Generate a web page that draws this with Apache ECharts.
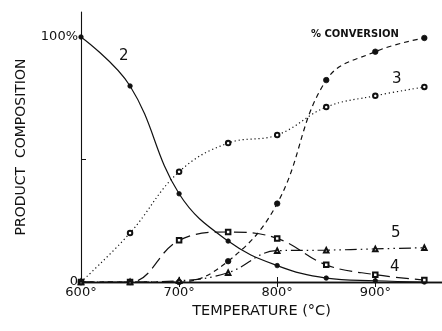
<!DOCTYPE html>
<html>
<head>
<meta charset="utf-8">
<script src="https://cdn.jsdelivr.net/npm/echarts@6/dist/echarts.min.js"></script>
<style>html,body{margin:0;padding:0;background:#fff}#c{width:442px;height:331px}</style>
</head>
<body>
<div id="c"></div>
<script>
var temps = [600, 650, 700, 750, 800, 850, 900, 950];
var product2 = [100, 80, 36, 16.7, 6.7, 1.6, 0.5, 0];
var conversion = [0, 0, 0, 8.5, 32, 82.4, 94, 99.6];
var product3 = [0, 20, 45, 56.7, 60, 71.4, 76, 79.6];
var product4 = [0, 0, 17, 20.4, 17.8, 7, 3, 0.8];
var product5 = [0, 0, 0.5, 3.8, 12.8, 13, 13.5, 14];
var xTickLabels = [600, 700, 800, 900];
var yTickLabels = [0, 100];

function pairs(vals) { return temps.map(function (t, i) { return [t, vals[i]]; }); }

var FONT = 'DejaVu Sans';
var chart = echarts.init(document.getElementById('c'));
var base = {
  type: 'line', smooth: 0.4, symbolSize: 5, z: 3,
  itemStyle: { color: '#111', borderColor: '#111', borderWidth: 0.8 }
};
function ser(vals, extra) { return Object.assign({}, base, { data: pairs(vals) }, extra); }

chart.setOption({
  animation: false,
  backgroundColor: '#fff',
  grid: { left: 81, right: 0, top: 12, bottom: 49 },
  xAxis: [{
    type: 'value', min: 600, max: 968, position: 'bottom',
    name: 'TEMPERATURE (°C)', nameLocation: 'middle', nameGap: 22,
    nameTextStyle: { fontFamily: FONT, fontSize: 14.5, color: '#111' },
    axisLine: { show: true, onZero: false, lineStyle: { color: '#111', width: 1.3 } },
    axisTick: { show: true, inside: true, length: 5, customValues: [700, 800, 900], lineStyle: { color: '#111' } },
    axisLabel: { customValues: xTickLabels, formatter: function (v) { return v + '°'; }, fontFamily: FONT, fontSize: 13, color: '#111', margin: 4 },
    splitLine: { show: false }
  }, {
    type: 'value', min: 600, max: 968, position: 'top',
    axisLine: { show: true, lineStyle: { color: '#111', width: 1.3 } },
    axisTick: { show: true, inside: true, length: 5, customValues: [700, 800, 900], lineStyle: { color: '#111' } },
    axisLabel: { show: false }, splitLine: { show: false }
  }],
  yAxis: {
    type: 'value', min: 0, max: 110.2,
    name: 'PRODUCT  COMPOSITION', nameLocation: 'middle', nameGap: 53,
    nameTextStyle: { fontFamily: FONT, fontSize: 14, color: '#111' },
    axisLine: { show: true, lineStyle: { color: '#111', width: 1.1 } },
    axisTick: { show: true, inside: true, length: 5, customValues: [50], lineStyle: { color: '#111' } },
    axisLabel: { customValues: yTickLabels, formatter: function (v) { return v === 100 ? '100%' : String(v); }, fontFamily: FONT, fontSize: 13, color: '#111', margin: 3 },
    splitLine: { show: false }
  },
  series: [
    ser(product2, { name: '2', symbol: 'circle', symbolSize: 4.5, lineStyle: { color: '#111', width: 1.2, type: 'solid' } }),
    ser(conversion, { name: 'conv', symbol: 'circle', symbolSize: 5.5, lineStyle: { color: '#111', width: 1.2, type: [5, 4] } }),
    ser(product3, { name: '3', symbol: 'emptyCircle', symbolSize: 4.5, lineStyle: { color: '#111', width: 1.2, type: [1.2, 2.8] } }),
    ser(product4, { name: '4', symbol: 'emptyRect', symbolSize: 4.5, lineStyle: { color: '#111', width: 1.2, type: [13, 6] } }),
    ser(product5, { name: '5', symbol: 'emptyTriangle', symbolSize: 4.5, lineStyle: { color: '#111', width: 1.2, type: [12, 4, 1.5, 4, 1.5, 4] } })
  ],
  graphic: [
    { type: 'text', left: 119, top: 49, style: { text: '2', font: '15px "DejaVu Sans"', fill: '#111' } },
    { type: 'text', left: 392, top: 72, style: { text: '3', font: '15px "DejaVu Sans"', fill: '#111' } },
    { type: 'text', left: 391, top: 226, style: { text: '5', font: '15px "DejaVu Sans"', fill: '#111' } },
    { type: 'text', left: 390, top: 260, style: { text: '4', font: '15px "DejaVu Sans"', fill: '#111' } },
    { type: 'text', left: 311, top: 29, style: { text: '% CONVERSION', font: 'bold 10px "DejaVu Sans"', fill: '#111' } }
  ]
});
</script>
</body>
</html>
